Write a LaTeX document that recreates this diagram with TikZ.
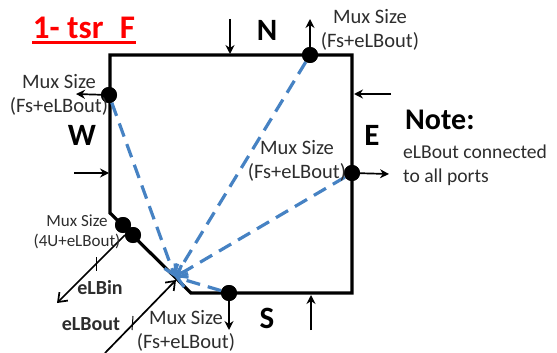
\documentclass[tikz,border=0pt]{standalone}
\usepackage{fontspec}
\setmainfont{Carlito}
\usetikzlibrary{arrows.meta}
\definecolor{dashblue}{RGB}{70,130,195}
\definecolor{muxgray}{RGB}{45,45,45}
\tikzset{
  wall/.style={line width=3.2pt,line join=miter},
  port/.style={circle,fill=black,inner sep=0pt,minimum size=16pt},
  portsmall/.style={circle,fill=black,inner sep=0pt,minimum size=16pt},
  wire/.style={line width=1.7pt,-{Stealth[length=9pt,width=9pt]}},
  openwire/.style={line width=1.7pt,-{Straight Barb[length=8pt,width=12pt]}},
  tick/.style={line width=1pt},
  mesh/.style={line width=3.2pt,dashblue,dash pattern=on 14pt off 8pt,-{Straight Barb[length=9pt,width=14pt]}},
  mux/.style={font=\fontsize{20.5}{24}\selectfont,text=muxgray,align=center,inner sep=0pt},
  muxs/.style={font=\fontsize{17}{20}\selectfont,text=muxgray,align=center,inner sep=0pt},
  side/.style={font=\fontsize{31}{33}\selectfont\bfseries,inner sep=0pt},
  bold/.style={font=\fontsize{20}{22}\selectfont\bfseries,text=muxgray,inner sep=0pt},
}
\begin{document}
\begin{tikzpicture}[x=1pt,y=-1pt]
\useasboundingbox (0,0) rectangle (557,353);
\coordinate (tl) at (110,55);
\coordinate (tr) at (352,55);
\coordinate (br) at (352,293);
\coordinate (bl) at (191,293);
\coordinate (lb) at (110,213);
\coordinate (hub) at (175,277);
\node[port] (pw) at (109,95) {};
\node[port] (pn) at (310,55) {};
\node[port] (pe) at (352,173) {};
\node[port] (ps) at (229,293) {};
\node[portsmall] (pd1) at (123,225) {};
\node[portsmall] (pd2) at (133,235) {};
% walls
\draw[wall] (tl) -- (tr) -- (br) -- (bl) -- (lb) -- cycle;
% in/out arrows
\coordinate (nin) at (230,19);
\coordinate (nint) at (230,54);
\coordinate (wout) at (76,94);
\coordinate (win) at (74,173);
\coordinate (wint) at (109,173);
\coordinate (nout) at (310,19);
\coordinate (ein) at (391,94);
\coordinate (eint) at (354,94);
\coordinate (eout) at (389,174);
\coordinate (sout) at (229,330);
\coordinate (sin) at (311,330);
\coordinate (sint) at (311,295);
\draw[wire] (nin) -- (nint);
\draw[wire] (pw) -- (wout);
\draw[wire] (win) -- (wint);
\draw[wire] (pn) -- (nout);
\draw[wire] (ein) -- (eint);
\draw[wire] (pe) -- (eout);
\draw[wire] (ps) -- (sout);
\draw[wire] (sin) -- (sint);
\coordinate (bins) at (125,235);
\coordinate (bin) at (57,303);
\coordinate (bout) at (105,353);
\coordinate (boutt) at (176,280);
\draw[openwire] (bins) -- (bin);
\draw[openwire] (bout) -- (boutt);
\coordinate (t1a) at (96,257); \coordinate (t1b) at (96,271);
\coordinate (t2a) at (133,316); \coordinate (t2b) at (132,330);
\draw[tick] (t1a) -- (t1b);
\draw[tick] (t2a) -- (t2b);
% mesh
\draw[mesh] (pw) -- (hub);
\draw[mesh] (pn) -- (hub);
\draw[mesh] (pe) -- (hub);
\draw[mesh] (ps) -- (hub);
% ports on top
\node[port] at (pw) {};
\node[port] at (pn) {};
\node[port] at (pe) {};
\node[port] at (ps) {};
\node[portsmall] at (pd1) {};
\node[portsmall] at (pd2) {};
% texts
\node[font=\fontsize{33}{35}\selectfont\bfseries,text=red,inner sep=0pt] (title) at (84,28) {1- tsr\hspace{9pt} F};
\coordinate (ula) at (32,42.5); \coordinate (ulb) at (136,42.5);
\draw[red,line width=2.4pt] (ula) -- (ulb);
\node[side] (lN) at (267,30) {N};
\node[side] (lW) at (82,135) {W};
\node[side] (lE) at (372,135) {E};
\node[side] (lS) at (267,318) {S};
\node[mux] (m1) at (370,30) {Mux Size\\(Fs+eLBout)};
\node[mux] (m2) at (59,95) {Mux Size\\(Fs+eLBout)};
\node[mux] (m3) at (297,161) {Mux Size\\(Fs+eLBout)};
\node[mux] (m4) at (186,331) {Mux Size\\(Fs+eLBout)};
\node[muxs] (m5) at (77,232) {Mux Size\\(4U+eLBout)};
\node[bold] (lin) at (100,288) {eLBin};
\node[bold] (lout) at (91,324) {eLBout};
\node[font=\fontsize{30}{32}\selectfont\bfseries,inner sep=0pt,anchor=west] (note) at (405,120) {Note:};
\node[font=\fontsize{19.6}{24}\selectfont,text=muxgray,align=left,inner sep=0pt,anchor=west] (nt) at (403,165) {eLBout connected\\to all ports};
\end{tikzpicture}
\end{document}
